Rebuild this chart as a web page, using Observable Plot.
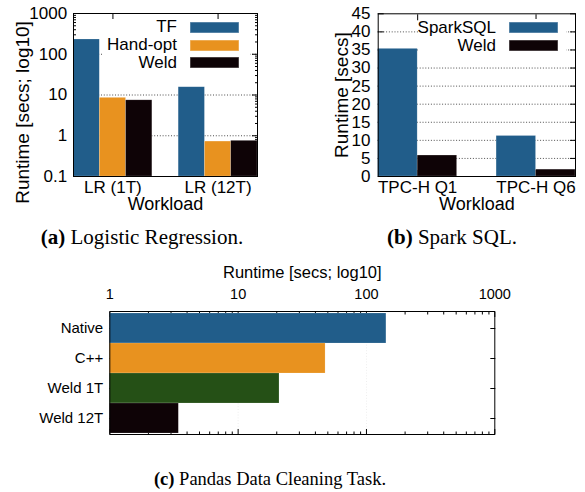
<!DOCTYPE html>
<html><head><meta charset="utf-8">
<script src="https://cdn.jsdelivr.net/npm/d3@7"></script>
<script src="https://cdn.jsdelivr.net/npm/@observablehq/plot@0.6"></script>
<style>
html,body{margin:0;padding:0;background:#fff;}
#fig{position:relative;width:585px;height:492px;overflow:hidden;}
.panel{position:absolute;}
.cap{position:absolute;font-family:"Liberation Serif","Times New Roman",serif;text-align:center;white-space:nowrap;color:#000;width:320px;}
.key{position:absolute;background:#fff;box-sizing:border-box;}
.key > div{font-family:"Liberation Sans",Arial,sans-serif;font-size:17px;margin:0;color:#000;}
.key .kA-swatch,.key .kB-swatch{display:flex;flex-direction:row-reverse;justify-content:flex-start;align-items:center;padding:0;}
.key .kA-swatch{height:17.7px;}
.key .kB-swatch{height:17.8px;}
.key svg{margin:0 0 0 13px;}
.key rect{stroke:rgba(255,255,255,.4);stroke-width:1.2px;}
.key .kA-swatch-label,.key .kB-swatch-label{overflow:visible;}
</style></head>
<body><div id="fig"></div>
<script>
// ---- (a) Logistic Regression ----
const lrWorkloads = ["LR (1T)", "LR (12T)"];
const lrSeries = ["TF", "Hand-opt", "Weld"];
const lrTF = [230, 15.5];
const lrHandOpt = [8.5, 0.72];
const lrWeld = [7.4, 0.75];
const lrColors = ["#215d8a", "#e8921f", "#0e0306"];
const lrYTicks = [0.1, 1, 10, 100, 1000];
const lrYLabel = "Runtime [secs; log10]";

// ---- (b) Spark SQL ----
const sqlWorkloads = ["TPC-H Q1", "TPC-H Q6"];
const sqlSeries = ["SparkSQL", "Weld"];
const sqlSparkSQL = [35.3, 11.2];
const sqlWeld = [5.8, 1.9];
const sqlColors = ["#215d8a", "#0e0306"];
const sqlYTicks = [0, 5, 10, 15, 20, 25, 30, 35, 40, 45];
const sqlYLabel = "Runtime [secs]";

const workloadLabel = "Workload";

// ---- (c) Pandas Data Cleaning Task ----
const pandasSystems = ["Native", "C++", "Weld 1T", "Weld 12T"];
const pandasRuntime = [143, 48, 21, 3.45];
const pandasColors = ["#215d8a", "#e8921f", "#255016", "#0e0306"];
const pandasXTicks = [1, 10, 100, 1000];
const pandasXLabel = "Runtime [secs; log10]";

const FONT = '"Liberation Sans", Arial, Helvetica, sans-serif';
const fig = document.getElementById("fig");
const noText = () => "";
const dotted = {stroke: "#222", strokeWidth: 0.8, strokeDasharray: "1,1.8"};
const logMinor = (majors) => majors.slice(0, -1).flatMap(t => d3.range(2, 10).map(k => k * t));

function groupRows(workloads, series, valuesBySeries) {
  const stride = series.length + 1;
  return workloads.flatMap((w, g) => series.map((s, k) => ({workload: w, series: s, value: valuesBySeries[k][g], slot: g * stride + k})));
}
function groupCenters(workloads, series) {
  const stride = series.length + 1;
  return workloads.map((w, g) => g * stride + series.length / 2);
}

function groupedPlot(o) {
  const {workloads, series, values, colors, yScale, yTicks, yMinor, yGrid, yLabel, labelDx, labelDy, width, height, margins, tickPadding} = o;
  const rows = groupRows(workloads, series, values);
  const centers = groupCenters(workloads, series);
  const xDomain = [0, workloads.length * (series.length + 1) - 1];
  const fs = 17;
  const minorMarks = yMinor ? [
    Plot.axisY(yMinor, {anchor: "left", tickSize: 3, dx: 3, tickFormat: noText, label: null}),
    Plot.axisY(yMinor, {anchor: "right", tickSize: 3, dx: -3, tickFormat: noText, label: null})
  ] : [];
  return Plot.plot({
    width, height, ...margins,
    style: {fontFamily: FONT, fontSize: fs + "px", background: "transparent", color: "#000", overflow: "visible"},
    x: {domain: xDomain, label: null},
    y: {...yScale, label: null},
    color: {domain: series, range: colors},
    marks: [
      Plot.gridY(yGrid, {...dotted, strokeOpacity: 1}),
      ...minorMarks,
      Plot.axisY(yTicks, {anchor: "left", tickSize: 6, dx: 6, tickFormat: noText, label: null}),
      Plot.axisY(yTicks, {anchor: "right", tickSize: 6, dx: -6, tickFormat: noText, label: null}),
      Plot.axisX(centers, {anchor: "top", tickSize: 6, dy: 6, tickFormat: noText, label: null}),
      Plot.axisX(centers, {anchor: "bottom", tickSize: 6, dy: -6, tickFormat: noText, label: null}),
      Plot.rect(rows, {x1: "slot", x2: d => d.slot + 1, y1: yScale.domain[0], y2: "value", fill: "series", stroke: "#fff", strokeOpacity: 0.3, strokeWidth: 0.6}),
      Plot.axisY(yTicks, {anchor: "left", tickSize: 0, tickPadding, tickFormat: d => String(d), fontSize: fs, label: null}),
      Plot.axisX(centers, {anchor: "bottom", tickSize: 0, tickPadding: 4, tickFormat: d => workloads[centers.indexOf(d)], fontSize: fs, label: null}),
      Plot.text([yLabel], {frameAnchor: "left", rotate: -90, textAnchor: "middle", lineAnchor: "bottom", dx: labelDx, dy: labelDy, fontSize: 19}),
      Plot.text([workloadLabel], {frameAnchor: "bottom", textAnchor: "middle", lineAnchor: "bottom", dy: 33.5, fontSize: 18}),
      Plot.frame({stroke: "#000", strokeWidth: 1})
    ]
  });
}

function place(node, left, top) {
  node.classList.add("panel");
  node.style.left = left + "px";
  node.style.top = top + "px";
  fig.appendChild(node);
}

function makeKey(series, colors, cls, box) {
  const lg = Plot.legend({color: {domain: series, range: colors}, legend: "swatches", columns: 1, swatchWidth: 49, swatchHeight: 11, className: cls});
  const wrap = document.createElement("div");
  wrap.className = "key";
  Object.assign(wrap.style, box);
  wrap.appendChild(lg);
  fig.appendChild(wrap);
}

function caption(html, center, baseline, size) {
  const d = document.createElement("div");
  d.className = "cap";
  d.innerHTML = html;
  d.style.fontSize = size + "px";
  d.style.lineHeight = size + "px";
  d.style.left = (center - 160) + "px";
  d.style.top = (baseline - 0.8375 * size) + "px";
  fig.appendChild(d);
}

// (a)
place(groupedPlot({
  workloads: lrWorkloads, series: lrSeries, values: [lrTF, lrHandOpt, lrWeld], colors: lrColors,
  yScale: {type: "log", domain: [0.1, 1000]}, yTicks: lrYTicks, yMinor: logMinor(lrYTicks), yGrid: [1, 10, 100],
  yLabel: lrYLabel, labelDx: -45, labelDy: 17.5,
  width: 290, height: 220, margins: {marginLeft: 73, marginRight: 33, marginTop: 13, marginBottom: 44}, tickPadding: 6.3
}), 0, 0);
makeKey(lrSeries, lrColors, "kA", {left: "103px", top: "18.5px", width: "147px", paddingRight: "11px"});

// (b)
place(groupedPlot({
  workloads: sqlWorkloads, series: sqlSeries, values: [sqlSparkSQL, sqlWeld], colors: sqlColors,
  yScale: {type: "linear", domain: [0, 45]}, yTicks: sqlYTicks, yMinor: null, yGrid: sqlYTicks.slice(1, -1),
  yLabel: sqlYLabel, labelDx: -30.7, labelDy: 0,
  width: 295, height: 220, margins: {marginLeft: 87.7, marginRight: 10, marginTop: 13.3, marginBottom: 44}, tickPadding: 7.7
}), 290, 0);
makeKey(sqlSeries, sqlColors, "kB", {left: "419px", top: "18.8px", width: "147px", paddingRight: "8px"});

// (c)
const pandasRows = pandasSystems.map((s, i) => ({system: s, runtime: pandasRuntime[i]}));
const pMinor = logMinor(pandasXTicks);
const pDomain = [1, 1000];
place(Plot.plot({
  width: 585, height: 195, marginLeft: 109.3, marginRight: 90.7, marginTop: 56, marginBottom: 16,
  style: {fontFamily: FONT, fontSize: "14.5px", background: "transparent", color: "#000", overflow: "visible"},
  x: {type: "log", domain: pDomain, label: null},
  y: {domain: pandasSystems, padding: 0, label: null},
  color: {domain: pandasSystems, range: pandasColors},
  marks: [
    Plot.gridX([10, 100], dotted),
    Plot.axisX(pMinor, {anchor: "top", tickSize: 2.5, dy: 2.5, tickFormat: noText, label: null}),
    Plot.axisX(pMinor, {anchor: "bottom", tickSize: 2.5, dy: -2.5, tickFormat: noText, label: null}),
    Plot.axisX(pandasXTicks, {anchor: "top", tickSize: 5, dy: 5, tickFormat: noText, label: null}),
    Plot.axisX(pandasXTicks, {anchor: "bottom", tickSize: 5, dy: -5, tickFormat: noText, label: null}),
    Plot.axisY({anchor: "right", tickSize: 5, dx: -5, tickFormat: noText, label: null}),
    Plot.axisY({anchor: "left", tickSize: 5, dx: 5, tickFormat: noText, label: null}),
    Plot.barX(pandasRows, {x1: pDomain[0], x2: "runtime", y: "system", fill: "system", stroke: "#fff", strokeOpacity: 0.25, strokeWidth: 0.6}),
    Plot.axisX(pandasXTicks, {anchor: "top", tickSize: 0, tickPadding: 13, tickFormat: d => String(d), fontSize: 14.5, label: null}),
    Plot.axisY({anchor: "left", tickSize: 0, tickPadding: 6.6, fontSize: 15, label: null}),
    Plot.text([pandasXLabel], {frameAnchor: "top", textAnchor: "middle", lineAnchor: "bottom", dy: -34, fontSize: 16.5}),
    Plot.frame({stroke: "#000", strokeWidth: 1})
  ]
}), 0, 255);

caption("<b>(a)</b> Logistic Regression.", 142, 245, 21);
caption("<b>(b)</b> Spark SQL.", 452, 245, 21);
caption("<b>(c)</b> Pandas Data Cleaning Task.", 270, 485, 18.5);
</script></body></html>
